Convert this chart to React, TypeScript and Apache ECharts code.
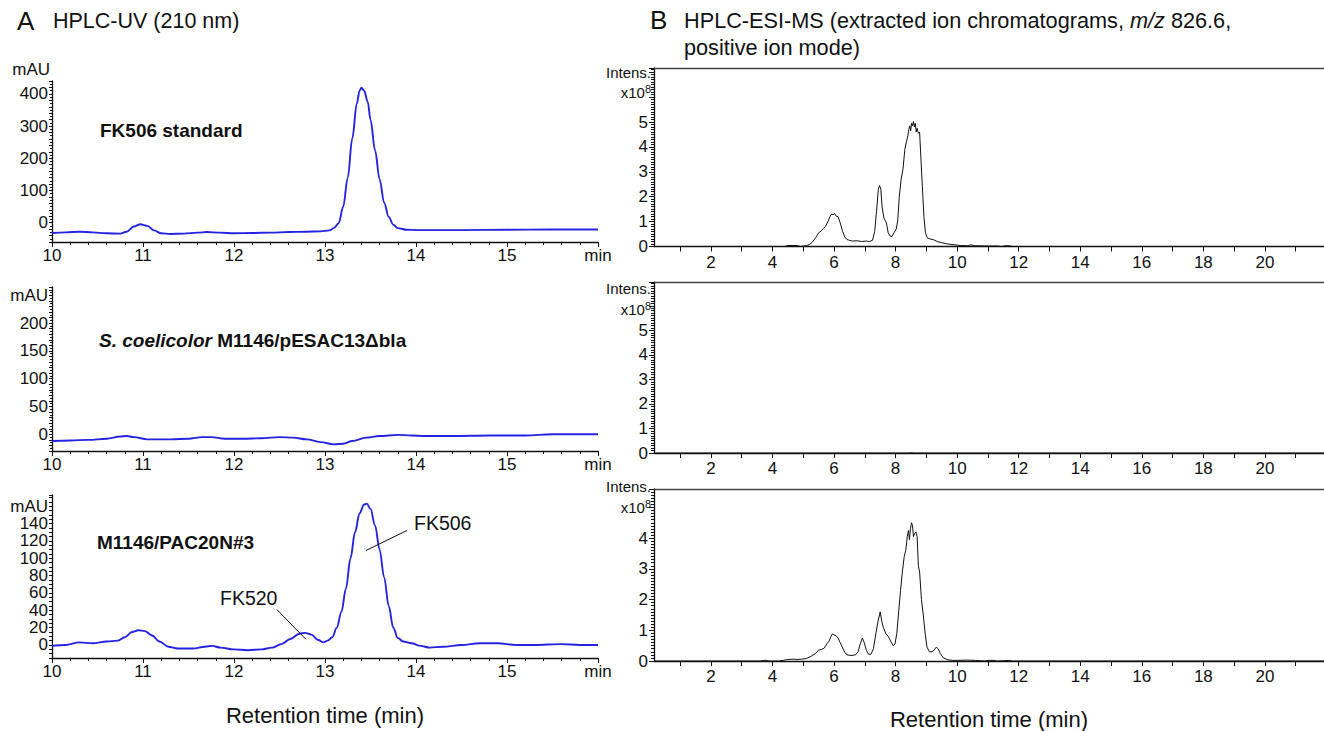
import * as echarts from 'echarts';
import { useEffect, useRef } from 'react';

// ---------- DATA ----------
// Panel A: HPLC-UV (210 nm), [retention time (min), absorbance (mAU)]
const uvFK506Standard: number[][] = [
  [10.0, -32], [10.15, -30], [10.3, -28], [10.45, -30], [10.6, -33], [10.75, -34], [10.82, -28],
  [10.9, -12], [10.97, -5], [11.05, -10], [11.12, -24], [11.2, -33], [11.3, -35], [11.45, -34],
  [11.6, -31], [11.7, -29], [11.85, -31], [12.0, -33], [12.2, -32], [12.4, -31], [12.6, -29],
  [12.8, -28], [12.95, -27], [13.05, -24], [13.1, -16], [13.15, -2], [13.2, 50], [13.25, 140],
  [13.3, 262], [13.35, 370], [13.38, 410], [13.4, 419], [13.43, 410], [13.47, 375], [13.5, 320],
  [13.55, 225], [13.6, 135], [13.65, 62], [13.7, 18], [13.75, -6], [13.8, -17], [13.9, -22],
  [14.0, -23], [14.5, -23], [15.0, -22], [15.5, -21], [16.0, -21],
];
const uvControl: number[][] = [
  [10.0, -12], [10.2, -11], [10.4, -10], [10.6, -8], [10.75, -4], [10.82, -3], [10.9, -5],
  [11.05, -9], [11.3, -9], [11.5, -8], [11.65, -5], [11.75, -5], [11.9, -8], [12.1, -8],
  [12.3, -7], [12.5, -5], [12.65, -6], [12.8, -9], [12.95, -14], [13.1, -18], [13.2, -17],
  [13.3, -12], [13.45, -6], [13.6, -3], [13.8, -1], [13.95, -2], [14.1, -3], [14.4, -3],
  [14.8, -2], [15.2, -2], [15.5, 0], [15.8, 0], [16.0, 0],
];
const uvPAC20N: number[][] = [
  [10.0, -1], [10.15, 0], [10.3, 3], [10.45, 2], [10.6, 4], [10.72, 5], [10.8, 9], [10.88, 15],
  [10.95, 17], [11.02, 16], [11.1, 11], [11.18, 4], [11.28, -2], [11.38, -4], [11.55, -4],
  [11.68, -2], [11.76, -1], [11.85, -3], [12.0, -5], [12.15, -6], [12.3, -5], [12.42, -3],
  [12.52, 1], [12.62, 7], [12.72, 13], [12.78, 14], [12.85, 12], [12.92, 6], [12.98, 3],
  [13.03, 5], [13.08, 9], [13.13, 20], [13.18, 38], [13.23, 65], [13.28, 100], [13.33, 130],
  [13.38, 152], [13.43, 162], [13.46, 163], [13.5, 157], [13.55, 138], [13.6, 110], [13.65, 78],
  [13.7, 45], [13.75, 20], [13.8, 8], [13.86, 4], [13.95, 2], [14.05, -1], [14.15, -3],
  [14.3, -2], [14.5, 0], [14.7, 2], [14.9, 2], [15.1, 0], [15.3, 0], [15.6, 1], [15.8, 0], [16.0, 0],
];
// Annotation leader lines (data coordinates of panel A3)
const fk520Leader: number[][] = [[12.47, 41], [12.79, 6.6]];
const fk506Leader: number[][] = [[13.9, 132], [13.45, 109]];

// Panel B: EIC m/z 826.6, [retention time (min), intensity (x10^8)]
const msFK506Standard: number[][] = [
  [0.15, 0], [4.4, 0], [4.5, 0.04], [4.8, 0.04], [4.9, 0], [5.1, 0.03], [5.2, 0.08], [5.3, 0.18],
  [5.4, 0.35], [5.5, 0.55], [5.58, 0.62], [5.65, 0.72], [5.72, 0.8], [5.8, 1.0], [5.87, 1.2],
  [5.92, 1.3], [5.97, 1.28], [6.02, 1.32], [6.07, 1.22], [6.13, 1.2], [6.2, 0.95], [6.28, 0.6],
  [6.35, 0.38], [6.42, 0.28], [6.5, 0.25], [6.6, 0.22], [6.75, 0.23], [6.9, 0.2], [7.05, 0.22],
  [7.15, 0.2], [7.25, 0.25], [7.32, 0.6], [7.38, 1.4], [7.44, 2.3], [7.48, 2.45], [7.52, 2.3],
  [7.56, 1.6], [7.62, 1.15], [7.7, 0.95], [7.76, 0.55], [7.82, 0.42], [7.88, 0.4], [7.95, 0.55],
  [8.02, 0.7], [8.07, 1.05], [8.12, 2.0], [8.18, 2.7], [8.24, 3.1], [8.3, 3.9], [8.35, 4.2],
  [8.4, 4.45], [8.43, 4.7], [8.46, 4.85], [8.49, 4.65], [8.52, 4.95], [8.55, 4.85], [8.58, 5.02],
  [8.61, 4.8], [8.64, 4.95], [8.67, 4.6], [8.7, 4.75], [8.74, 4.55], [8.78, 4.6], [8.82, 3.6],
  [8.87, 2.4], [8.92, 1.2], [8.97, 0.55], [9.03, 0.35], [9.12, 0.3], [9.22, 0.28], [9.35, 0.2],
  [9.5, 0.15], [9.7, 0.1], [9.9, 0.07], [10.1, 0.04], [10.35, 0.03], [10.45, 0.07], [10.55, 0.03],
  [11.0, 0.02], [11.3, 0.02], [11.45, 0], [11.55, 0.03], [11.7, 0.03], [11.8, 0], [12.0, 0], [21.92, 0],
];
const msControl: number[][] = [[0.15, 0], [8.4, 0], [8.5, 0.01], [8.6, 0], [21.92, 0]];
const msPAC20N: number[][] = [
  [0.15, 0], [3.6, 0], [3.7, 0.02], [3.8, 0.02], [3.9, 0], [4.2, 0], [4.35, 0.02], [4.5, 0.05],
  [4.7, 0.06], [4.8, 0.05], [4.95, 0.06], [5.1, 0.08], [5.25, 0.15], [5.4, 0.25], [5.5, 0.35],
  [5.6, 0.38], [5.68, 0.42], [5.76, 0.55], [5.84, 0.65], [5.9, 0.8], [5.95, 0.88], [6.0, 0.85],
  [6.07, 0.82], [6.13, 0.75], [6.2, 0.6], [6.28, 0.42], [6.35, 0.28], [6.42, 0.2], [6.55, 0.18],
  [6.7, 0.2], [6.78, 0.3], [6.85, 0.55], [6.92, 0.75], [6.98, 0.6], [7.05, 0.35], [7.12, 0.22],
  [7.2, 0.22], [7.28, 0.4], [7.36, 0.9], [7.43, 1.3], [7.5, 1.6], [7.55, 1.3], [7.6, 1.1],
  [7.68, 0.9], [7.76, 0.8], [7.84, 0.65], [7.92, 0.5], [7.98, 0.55], [8.04, 0.9], [8.1, 1.6],
  [8.16, 2.3], [8.22, 2.9], [8.28, 3.4], [8.33, 3.6], [8.38, 4.05], [8.42, 4.25], [8.45, 3.95],
  [8.48, 4.3], [8.52, 4.5], [8.55, 4.4], [8.58, 4.05], [8.62, 4.15], [8.66, 4.2], [8.7, 4.05],
  [8.74, 3.1], [8.78, 2.9], [8.84, 2.0], [8.9, 1.5], [8.96, 0.9], [9.02, 0.45], [9.1, 0.3],
  [9.18, 0.3], [9.25, 0.35], [9.32, 0.45], [9.38, 0.4], [9.45, 0.25], [9.55, 0.1], [9.7, 0.04],
  [9.85, 0.02], [10.0, 0.02], [10.3, 0.03], [10.6, 0.02], [10.9, 0], [11.0, 0.02], [11.2, 0.02],
  [11.3, 0], [11.7, 0.02], [11.8, 0], [21.92, 0],
];

// Tick values for panel B x axes
const msTickValues: number[] = [1, 2, 3, 4, 5, 6, 7, 8, 9, 10, 11, 12, 13, 14, 15, 16, 17, 18, 19, 20, 21];
const msLabelValues: number[] = [2, 4, 6, 8, 10, 12, 14, 16, 18, 20];

// ---------- STYLE ----------
const FONT = '"Liberation Sans", Arial, Helvetica, sans-serif';
const INK = '#111';
const UV_BLUE = '#2424e0';

export default function App() {
  const ref = useRef<HTMLDivElement>(null);

  useEffect(() => {
    if (!ref.current) return;
    const chart = echarts.init(ref.current, null, { renderer: 'svg' });

    const axisLine = { show: true, onZero: false, lineStyle: { color: INK, width: 1.3 } };
    const label = { color: INK, fontSize: 17, fontFamily: FONT };

    const uvX = (gi: number, withName: boolean) => ({
      type: 'value', gridIndex: gi, min: 10, max: 16, interval: 1,
      axisLine, splitLine: { show: false },
      axisTick: { show: true, length: 5, lineStyle: { color: INK } },
      minorTick: { show: true, splitNumber: 5, length: 3, lineStyle: { color: INK } },
      axisLabel: { ...label, margin: 5, showMinLabel: true, showMaxLabel: true,
        formatter: (v: number) => (v === 16 ? 'min' : String(v)) },
      ...(withName ? { name: 'Retention time (min)', nameLocation: 'middle', nameGap: 46,
        nameTextStyle: { color: INK, fontSize: 22, fontFamily: FONT } } : {}),
    });
    const msX = (gi: number, withName: boolean) => ({
      type: 'value', gridIndex: gi, min: 0.15, max: 21.92,
      axisLine, splitLine: { show: false },
      axisTick: { show: true, length: 5, customValues: msTickValues, lineStyle: { color: INK } },
      axisLabel: { ...label, margin: 7, customValues: msLabelValues },
      ...(withName ? { name: 'Retention time (min)', nameLocation: 'middle', nameGap: 47,
        nameTextStyle: { color: INK, fontSize: 22, fontFamily: FONT } } : {}),
    });
    const msTop = (gi: number) => ({
      type: 'value', gridIndex: gi, position: 'top', min: 0.15, max: 21.92,
      axisLine: { show: true, onZero: false, lineStyle: { color: '#444', width: 1.3 } },
      axisTick: { show: false }, axisLabel: { show: false }, splitLine: { show: false },
    });
    const uvY = (gi: number, min: number, max: number, interval: number, minorSplit: number,
      fmt: (v: number) => string, extra: any = {}) => ({
      type: 'value', gridIndex: gi, min, max, interval,
      axisLine, splitLine: { show: false },
      axisTick: { show: true, length: 3, lineStyle: { color: INK } },
      minorTick: { show: minorSplit > 1, splitNumber: minorSplit, length: 2, lineStyle: { color: INK } },
      axisLabel: { ...label, margin: 4, formatter: fmt, showMinLabel: true, showMaxLabel: true },
      ...extra,
    });
    const msY = (gi: number, max: number, maxLabel: number) => ({
      type: 'value', gridIndex: gi, min: 0, max, interval: 1,
      axisLine, splitLine: { show: false },
      axisTick: { show: true, length: 5, lineStyle: { color: INK } },
      minorTick: { show: true, splitNumber: 10, length: 3, lineStyle: { color: INK } },
      axisLabel: { ...label, margin: 6, formatter: (v: number) => (v <= maxLabel ? String(v) : '') },
    });

    const text = (x: number, y: number, t: string, size: number, extra: any = {}) => ({
      type: 'text', x, y, silent: true,
      style: { text: t, fontSize: size, fontFamily: FONT, fill: INK, align: 'left', verticalAlign: 'middle', ...extra },
    });
    const x108 = (y: number) => ({
      type: 'text', x: 651, y, silent: true,
      style: {
        text: '{a|x10}{s|8}', align: 'right', verticalAlign: 'middle', fill: INK,
        rich: {
          a: { fontSize: 15, fontFamily: FONT, fill: INK },
          s: { fontSize: 11, fontFamily: FONT, fill: INK, padding: [0, 0, 7, 0] },
        },
      },
    });

    const uvLine = (i: number, data: number[][], extra: any = {}) => ({
      type: 'line', xAxisIndex: i, yAxisIndex: i, data, symbol: 'none', smooth: 0.35,
      smoothMonotone: 'x', lineStyle: { color: UV_BLUE, width: 1.9 }, silent: true, ...extra,
    });
    const msLine = (i: number, data: number[][]) => ({
      type: 'line', xAxisIndex: i, yAxisIndex: i, data, symbol: 'none',
      lineStyle: { color: INK, width: 1 }, silent: true,
    });

    chart.setOption({
      animation: false,
      backgroundColor: '#fff',
      grid: [
        { left: 52, top: 81, width: 546, height: 161 },
        { left: 52, top: 287, width: 546, height: 164 },
        { left: 52, top: 495, width: 546, height: 163 },
        { left: 654, top: 68, right: 0, height: 178.5 },
        { left: 654, top: 282, right: 0, height: 171 },
        { left: 654, top: 489, right: 0, height: 172 },
      ],
      xAxis: [
        uvX(0, false), uvX(1, false), uvX(2, true),
        msX(3, false), msX(4, false), msX(5, true),
        msTop(3), msTop(4), msTop(5),
      ],
      yAxis: [
        uvY(0, -60, 440, 20, 2, (v) => (v >= 0 && v % 100 === 0 ? String(v) : ''), {
          name: 'mAU', nameLocation: 'end', nameGap: 3,
          nameTextStyle: { color: INK, fontSize: 17, fontFamily: FONT, align: 'right', padding: [0, 2, 0, 0] },
        }),
        uvY(1, -30, 265, 10, 2, (v) => (v === 250 ? 'mAU' : v >= 0 && v <= 200 && v % 50 === 0 ? String(v) : '')),
        uvY(2, -15, 173, 5, 1, (v) => (v === 160 ? 'mAU' : v >= 0 && v <= 140 && v % 20 === 0 ? String(v) : '')),
        msY(3, 7.17, 5), msY(4, 6.97, 5), msY(5, 5.6, 4),
      ],
      series: [
        uvLine(0, uvFK506Standard),
        uvLine(1, uvControl),
        uvLine(2, uvPAC20N, {
          markLine: {
            silent: true, symbol: ['none', 'none'], animation: false,
            label: { show: false },
            lineStyle: { color: INK, width: 1, type: 'solid' },
            data: [
              [{ coord: fk520Leader[0] }, { coord: fk520Leader[1] }],
              [{ coord: fk506Leader[0] }, { coord: fk506Leader[1] }],
            ],
          },
        }),
        msLine(3, msFK506Standard),
        msLine(4, msControl),
        msLine(5, msPAC20N),
      ],
      graphic: [
        text(17, 21, 'A', 26),
        text(53, 21, 'HPLC-UV (210 nm)', 21.5),
        text(650, 20, 'B', 26),
        {
          type: 'text', x: 684, y: 20, silent: true,
          style: {
            text: '{n|HPLC-ESI-MS (extracted ion chromatograms, }{i|m/z}{n| 826.6,}',
            verticalAlign: 'middle', align: 'left',
            rich: {
              n: { fontSize: 21.7, fontFamily: FONT, fill: INK },
              i: { fontSize: 21.7, fontFamily: FONT, fill: INK, fontStyle: 'italic' },
            },
          },
        },
        text(684, 47, 'positive ion mode)', 21.7),
        text(100, 130, 'FK506 standard', 19, { fontWeight: 'bold' }),
        {
          type: 'text', x: 99, y: 340, silent: true,
          style: {
            text: '{i|S. coelicolor}{b| M1146/pESAC13\u0394bla}', verticalAlign: 'middle', align: 'left',
            rich: {
              i: { fontSize: 19, fontFamily: FONT, fill: INK, fontWeight: 'bold', fontStyle: 'italic' },
              b: { fontSize: 19, fontFamily: FONT, fill: INK, fontWeight: 'bold' },
            },
          },
        },
        text(97, 542, 'M1146/PAC20N#3', 19, { fontWeight: 'bold' }),
        text(220, 598, 'FK520', 19.5),
        text(414, 523, 'FK506', 19.5),
        text(651, 72, 'Intens.', 15, { align: 'right' }),
        text(651, 288, 'Intens.', 15, { align: 'right' }),
        text(651, 486, 'Intens.', 15, { align: 'right' }),
        x108(92), x108(309), x108(507),
      ],
    });

    return () => chart.dispose();
  }, []);

  return (
    <div
      ref={ref}
      style={{ position: 'fixed', left: 0, top: 0, width: 1324, height: 731, background: '#fff' }}
    />
  );
}
